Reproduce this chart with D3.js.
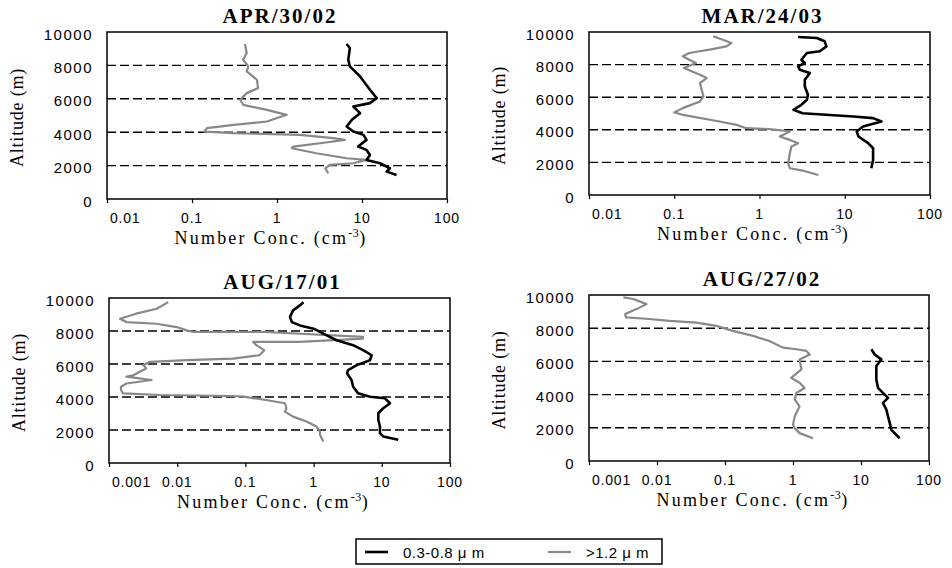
<!DOCTYPE html>
<html><head><meta charset="utf-8">
<script src="https://cdn.jsdelivr.net/npm/d3@7"></script>
<style>body{margin:0;background:#fff}svg{display:block}</style>
</head><body><svg id="c" width="952" height="568"></svg>
<script>
// ---------- data ----------
const panelTitles = ["APR/30/02", "MAR/24/03", "AUG/17/01", "AUG/27/02"];
const seriesNames = ["0.3-0.8 \u03bc m", ">1.2 \u03bc m"];
const altTicks = [0, 2000, 4000, 6000, 8000, 10000];
const gridAlts = [2000, 4000, 6000, 8000];
const concTicksA = [0.01, 0.1, 1, 10, 100];
const concTickLabelsA = ["0.01", "0.1", "1", "10", "100"];
const concTicksB = [0.001, 0.01, 0.1, 1, 10, 100];
const concTickLabelsB = ["0.001", "0.01", "0.1", "1", "10", "100"];

// APR/30/02
const aprFineAlt = [9280,9040,8340,7940,7340,6540,6040,5740,5540,5140,4740,4340,4040,3840,3540,3140,2940,2640,2340,2140,1840,1640,1440];
const aprFineConc = [6.6,7.2,6.9,7.2,9.5,12.4,14.9,12.4,7.9,9.5,7.6,6.6,7.9,10.4,11.3,9.0,11.3,12.4,11.3,16.3,21.3,19.5,25.5];
const aprCoarseAlt = [9280,8740,8340,7940,7640,7140,6640,6340,5940,5640,5340,5040,4640,4440,4240,4040,3940,3840,3640,3540,3340,3140,3040,2740,2440,2340,2140,2040,1840,1540];
const aprCoarseConc = [0.42,0.44,0.40,0.46,0.44,0.58,0.60,0.44,0.37,0.40,0.76,1.3,0.76,0.31,0.15,0.14,0.31,1.86,4.6,6.3,3.2,1.55,1.5,2.9,6.6,11.3,7.9,4.2,3.7,4.0];

// MAR/24/03
const marFineAlt = [9690,9630,9430,9120,8815,8710,8300,8100,7890,7690,7480,7070,6660,6150,5840,5535,5230,5020,4820,4715,4510,4200,3900,3590,3180,2870,2150,1640];
const marFineConc = [2.84,4.7,5.8,6.1,5.1,3.6,3.1,3.4,2.84,2.97,3.9,3.4,3.4,3.7,3.6,3.1,2.5,3.2,12.6,21.5,27,16.4,13.8,14.5,18.8,21.5,21.5,20.5];
const marCoarseAlt = [9740,9530,9330,9120,8920,8710,8510,8300,8100,7790,7380,7175,6870,6050,5740,5330,5060,4920,4510,4300,4100,4050,3900,3690,3590,3380,3180,2970,2560,1950,1640,1500,1230];
const marCoarseConc = [0.286,0.37,0.47,0.41,0.26,0.15,0.126,0.15,0.18,0.13,0.2,0.24,0.2,0.22,0.2,0.126,0.10,0.126,0.34,0.54,0.7,1.3,2.27,1.9,1.73,2.27,2.84,2.37,2.27,2.17,2.27,3.2,4.9];

// AUG/17/01
const aug17FineAlt = [9750,9550,9250,8840,8540,8340,8140,7840,7440,7140,6830,6530,6230,5930,5630,5430,5030,4620,4220,4020,3920,3620,3320,3015,2610,2210,1810,1610,1410];
const aug17FineConc = [0.71,0.63,0.50,0.45,0.48,0.63,1.0,1.39,2.17,3.8,5.4,7.1,6.7,4.3,3.2,3.1,3.6,3.8,4.5,6.7,11.1,13.2,10.5,8.9,8.9,9.4,9.4,10.5,17.4];
const aug17CoarseAlt = [9750,9350,9050,8740,8540,8440,8240,8040,7940,7940,7640,7540,7340,7340,7140,6830,6530,6330,6230,6130,5930,5730,5330,5230,5030,4820,4620,4420,4220,4120,4060,4020,3820,3620,3320,3115,2810,2510,2210,1910,1710,1310];
const aug17CoarseConc = [0.0074,0.005,0.0025,0.00145,0.0018,0.005,0.0098,0.0137,0.0173,0.2,5.3,5.3,0.63,0.13,0.145,0.19,0.16,0.066,0.0137,0.004,0.0032,0.0035,0.0023,0.0018,0.0042,0.0018,0.0015,0.0015,0.0016,0.0056,0.066,0.093,0.2,0.38,0.40,0.38,0.5,0.79,1.1,1.24,1.24,1.39];

// AUG/27/02
const aug27FineAlt = [6730,6420,6120,5720,4910,4400,4100,3800,3500,3090,2690,2280,1880,1370];
const aug27FineConc = [14.2,15.9,19.9,16.8,16.8,17.8,21,25,21,23.6,25,26.5,27.9,37];
const aug27CoarseAlt = [9860,9760,9450,9150,8850,8650,8585,8440,8340,8140,7840,7535,7230,6830,6730,6630,6420,6120,5515,5010,4710,4400,4100,3700,3290,2690,2180,1980,1680,1370];
const aug27CoarseConc = [0.0032,0.0045,0.007,0.005,0.0034,0.0035,0.0062,0.0154,0.038,0.075,0.13,0.26,0.45,0.71,1.12,1.57,1.76,1.25,1.33,0.94,1.25,1.48,1.12,1.06,1.25,1.06,1.0,1.06,1.25,1.97];

// ---------- layout ----------
const panels = [
  {title: panelTitles[0], L:107, R:447, T:32,  B:199, ticks:concTicksA, labels:concTickLabelsA,
   fine:[aprFineConc, aprFineAlt], coarse:[aprCoarseConc, aprCoarseAlt]},
  {title: panelTitles[1], L:589, R:930, T:32,  B:195, ticks:concTicksA, labels:concTickLabelsA,
   fine:[marFineConc, marFineAlt], coarse:[marCoarseConc, marCoarseAlt]},
  {title: panelTitles[2], L:109, R:450, T:298, B:463, ticks:concTicksB, labels:concTickLabelsB,
   fine:[aug17FineConc, aug17FineAlt], coarse:[aug17CoarseConc, aug17CoarseAlt]},
  {title: panelTitles[3], L:589, R:929, T:295, B:461, ticks:concTicksB, labels:concTickLabelsB,
   fine:[aug27FineConc, aug27FineAlt], coarse:[aug27CoarseConc, aug27CoarseAlt]}
];

const svg = d3.select("#c");
const serif = "'Liberation Serif','Times New Roman',serif";
const sans = "'Liberation Sans',Arial,sans-serif";
const FINE = "#000", COARSE = "#888";

panels.forEach(p => {
  const x = d3.scaleLog().domain([p.ticks[0], 100]).range([p.L, p.R]);
  const y = d3.scaleLinear().domain([0, 10000]).range([p.B, p.T]);
  const g = svg.append("g");

  // gridlines
  g.selectAll(".grid").data(gridAlts).join("line")
    .attr("x1", p.L).attr("x2", p.R)
    .attr("y1", d => y(d)).attr("y2", d => y(d))
    .attr("stroke", "#000").attr("stroke-width", 1.4).attr("stroke-dasharray", "9,4");

  // frame
  g.append("rect").attr("x", p.L).attr("y", p.T).attr("width", p.R - p.L).attr("height", p.B - p.T)
    .attr("fill", "none").attr("stroke", "#000").attr("stroke-width", 1.5);

  // x axis ticks
  const xa = d3.axisBottom(x).tickValues(p.ticks).tickSize(4).tickFormat("");
  g.append("g").attr("transform", `translate(0,${p.B})`).call(xa)
    .call(a => a.select(".domain").remove())
    .call(a => a.selectAll("line").attr("stroke-width", 1.2));

  g.selectAll(".xl").data(p.ticks).join("text")
    .attr("x", (d, i) => i === 0 ? x(d) + 3 : x(d))
    .attr("y", p.B + 19)
    .attr("dominant-baseline", "central")
    .attr("text-anchor", (d, i) => i === 0 ? "start" : "middle")
    .attr("font-family", sans).attr("font-size", 14).attr("letter-spacing", 0.8)
    .text((d, i) => p.labels[i]);

  // y tick labels
  g.selectAll(".yl").data(altTicks).join("text")
    .attr("x", p.L - 14)
    .attr("y", d => y(d) + 2)
    .attr("dominant-baseline", "central")
    .attr("text-anchor", "end")
    .attr("font-family", sans).attr("font-size", 15).attr("letter-spacing", 1.5)
    .text(d => d);

  // titles
  g.append("text").attr("x", (p.L + p.R) / 2 + 3).attr("y", p.T - 9)
    .attr("text-anchor", "middle").attr("font-family", serif).attr("font-weight", "bold")
    .attr("font-size", 21).attr("letter-spacing", 2).text(p.title);

  const xt = g.append("text").attr("x", (p.L + p.R) / 2 - 6).attr("y", p.B + 45)
    .attr("text-anchor", "middle").attr("font-family", serif).attr("font-size", 18).attr("letter-spacing", 2.2);
  xt.append("tspan").text("Number Conc.  (cm");
  xt.append("tspan").attr("baseline-shift", "super").attr("font-size", 12).attr("letter-spacing", 0.5).text("-3");
  xt.append("tspan").text(")");

  g.append("text").attr("transform", `translate(${p.L - 84},${(p.T + p.B) / 2 + 2}) rotate(-90)`)
    .attr("text-anchor", "middle").attr("font-family", serif).attr("font-size", 18).attr("letter-spacing", 0.8)
    .text("Altitude (m)");

  // series
  const line = d3.line().x(d => x(d[0])).y(d => y(d[1]));
  const pts = arr => arr[0].map((c, i) => [c, arr[1][i]]);
  g.append("path").datum(pts(p.coarse)).attr("d", line)
    .attr("fill", "none").attr("stroke", COARSE).attr("stroke-width", 2.2).attr("stroke-linejoin", "round");
  g.append("path").datum(pts(p.fine)).attr("d", line)
    .attr("fill", "none").attr("stroke", FINE).attr("stroke-width", 2.6).attr("stroke-linejoin", "round");
});

// legend
const lg = svg.append("g");
lg.append("rect").attr("x", 356).attr("y", 539).attr("width", 306).attr("height", 25)
  .attr("fill", "#fff").attr("stroke", "#000").attr("stroke-width", 1.5);
const legendItems = [{name: seriesNames[0], color: FINE, w: 2.6, x: 365}, {name: seriesNames[1], color: COARSE, w: 2.2, x: 548}];
legendItems.forEach(it => {
  lg.append("line").attr("x1", it.x).attr("x2", it.x + 23).attr("y1", 552).attr("y2", 552)
    .attr("stroke", it.color).attr("stroke-width", it.w);
  lg.append("text").attr("x", it.x + 38).attr("y", 552).attr("dominant-baseline", "central")
    .attr("font-family", sans).attr("font-size", 15).attr("letter-spacing", 0.5).text(it.name);
});
</script></body></html>
